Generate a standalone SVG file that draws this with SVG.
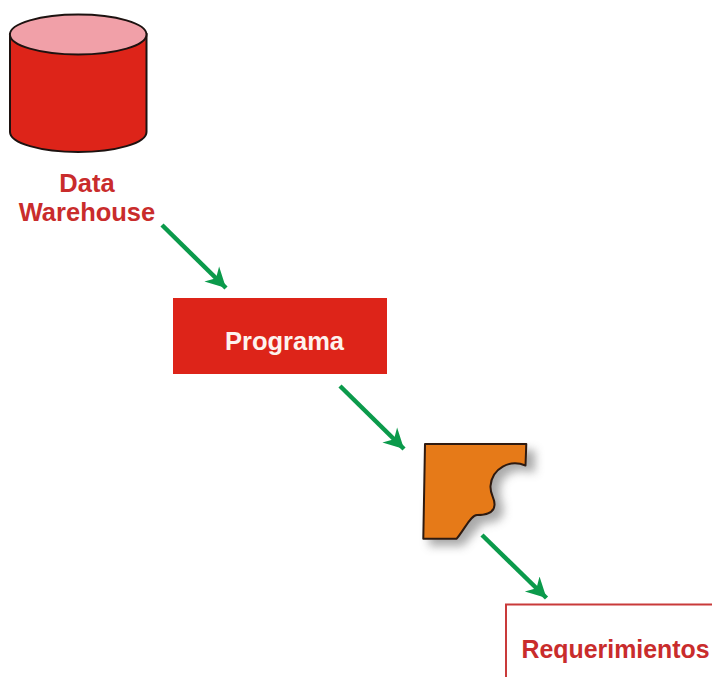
<svg xmlns="http://www.w3.org/2000/svg" width="712" height="677" viewBox="0 0 712 677">
<style>
text{font-family:"Liberation Sans",Arial,sans-serif;font-weight:bold;font-size:25.500px}
.red{fill:#c92c2c}
.conn{stroke:#0b9a4b;stroke-width:4.500;fill:none;marker-end:url(#a)}
.ol{stroke:#1d1210;stroke-width:2}
</style>
<defs>
<marker id="a" markerUnits="userSpaceOnUse" markerWidth="24" markerHeight="24" refX="20" refY="10.500" orient="auto" viewBox="0 0 24 21">
<path d="M0 0L20 10.500L0 21L6 10.500Z" fill="#0b9a4b"/>
</marker>
<filter id="s" x="-30%" y="-30%" width="170%" height="170%"><feGaussianBlur stdDeviation="5"/></filter>
</defs>
<rect width="712" height="677" fill="#fff"/>
<g id="data-warehouse">
<path class="ol" d="M10 34V132A68.250 20 0 0 0 146.500 132V34Z" fill="#dd2419"/>
<ellipse class="ol" cx="78.200" cy="34.500" rx="68.300" ry="20" fill="#f1a0a8"/>
<text class="red" x="87" y="192" text-anchor="middle">Data</text>
<text class="red" x="87" y="220.500" text-anchor="middle">Warehouse</text>
</g>
<g id="programa">
<rect x="173" y="298" width="214" height="76" fill="#dd2419"/>
<text x="284.500" y="350" text-anchor="middle" fill="#fdf3ee">Programa</text>
</g>
<g id="documento">
<path d="M431 450H535V473C514 466 499 476 500 492C500 502 505 505 503 514C501 522 490 523 483 523L463 546H429Z" fill="#555" opacity=".5" filter="url(#s)"/>
<path d="M425 444H526.300L525.500 465.500C510 459 492 468 490.500 486C490 495 495 498 494.500 505C494 513 487 515 477 515C471 515 466 527 456.700 538.700H423.300Z" fill="#e67a18" stroke="#2e1a10" stroke-width="2" stroke-linejoin="round"/>
</g>
<g id="requerimientos">
<rect x="506" y="604.500" width="220" height="90" fill="#fff" stroke="#c93a3a" stroke-width="2"/>
<text class="red" x="521.500" y="657.500" style="font-size:24.900px">Requerimientos</text>
</g>
<g id="connectors">
<line class="conn" x1="162" y1="225" x2="226" y2="288"/>
<line class="conn" x1="340" y1="386" x2="404" y2="449"/>
<line class="conn" x1="482" y1="535" x2="546.500" y2="598"/>
</g>
</svg>
